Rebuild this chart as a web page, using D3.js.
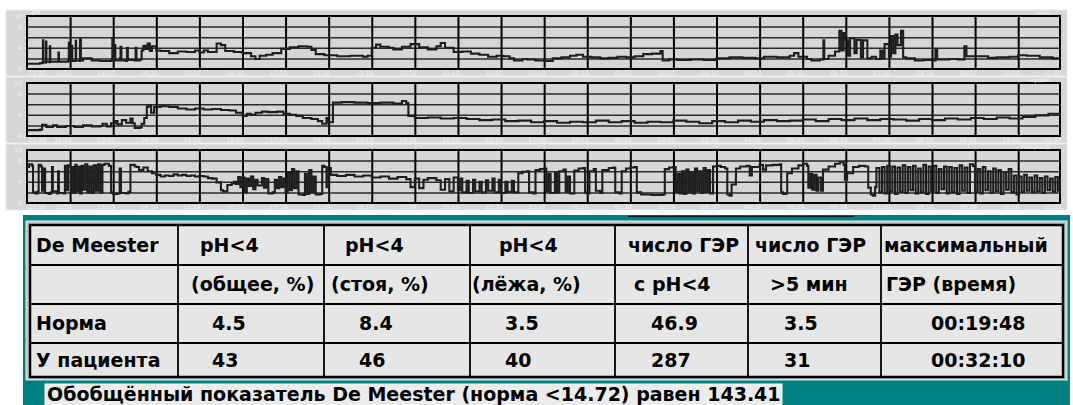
<!DOCTYPE html>
<html lang="ru">
<head>
<meta charset="UTF-8">
<script src="https://cdnjs.cloudflare.com/ajax/libs/d3/7.8.5/d3.min.js"></script>
<title>pH-метрия</title>
<style>
  body { margin: 0; background: #fff; }
  svg { display: block; }
  .tbl text { font-family: "DejaVu Sans", sans-serif; font-weight: bold; font-size: 19px; fill: #000; }
  .small text, text.small { font-family: "DejaVu Sans", sans-serif; font-size: 6px; fill: #f4f4f4; }
</style>
</head>
<body>
<svg width="1073" height="405"></svg>
<script>
// ---- data ----
var hourLabels = ["11:10", "12:10", "13:10", "14:10", "15:10", "16:10", "17:10", "18:10",
                  "19:10", "20:10", "21:10", "22:10", "23:10", "00:10", "01:10", "02:10",
                  "03:10", "04:10", "05:10", "06:10", "07:10", "08:10", "09:10", "10:10", "11:07"];
var hourTicks = [0, 1, 2, 3, 4, 5, 6, 7, 8, 9, 10, 11, 12, 13, 14, 15, 16, 17, 18, 19, 20, 21, 22, 23, 23.97];
var phLabels = [0, 4, 8, 10];
var phGrid = [2, 4, 6, 8];
var channelNames = ["тело", "кардия", "пищевод"];

// [hours since 11:10, pH]
var ph1 = [[0,1.0],[0.3,1.1],[0.36,1.2],[0.37,5.4],[0.38,1.3],[0.43,1.2],[0.44,5.2],[0.45,1.4],[0.52,1.3],[0.53,4.3],[0.54,1.4],
  [0.72,1.4],[0.73,3.1],[0.74,1.4],[0.95,1.5],[0.97,5.0],[0.98,1.6],[1.02,2.0],[1.03,4.4],[1.05,1.5],[1.12,1.6],[1.13,5.3],
  [1.14,1.6],[1.22,1.5],[1.23,5.6],[1.25,1.6],[1.3,2.0],[1.5,1.6],[1.7,1.5],[1.95,1.6],[1.98,5.8],[2.0,1.7],[2.03,4.5],
  [2.05,1.6],[2.15,2.0],[2.17,4.2],[2.19,1.6],[2.3,1.5],[2.32,4.0],[2.34,1.7],[2.5,1.6],[2.52,4.0],[2.54,1.6],[2.62,1.8],
  [2.66,3.5],[2.7,4.4],[2.75,3.8],[2.8,4.8],[2.85,3.4],[2.9,4.3],[3.0,3.5],[3.1,3.4],[3.3,3.0],[3.5,3.3],[3.7,3.2],[3.9,3.5],
  [4.0,3.1],[4.1,3.5],[4.2,3.2],[4.4,4.8],[4.5,4.5],[4.6,3.4],[4.8,3.2],[5.0,3.0],[5.2,2.4],[5.3,1.9],[5.4,2.5],[5.55,2.7],
  [5.7,3.0],[5.9,3.8],[6.1,4.1],[6.3,4.3],[6.5,4.2],[6.6,3.6],[6.7,2.8],[6.9,2.6],[7.2,2.4],[7.5,2.5],[7.8,2.3],[7.9,2.5],
  [8.0,4.0],[8.1,4.6],[8.2,4.2],[8.4,4.0],[8.5,3.7],[8.7,4.2],[8.9,4.7],[9.1,4.1],[9.3,3.7],[9.5,4.3],[9.6,4.9],[9.7,4.0],
  [9.9,3.2],[10.1,3.3],[10.3,2.9],[10.5,2.7],[10.7,2.3],[10.9,2.5],[11.05,2.4],[11.2,2.0],[11.3,1.6],[11.5,1.9],[11.6,1.8],
  [11.8,1.6],[12.0,1.5],[12.2,2.0],[12.4,2.2],[12.6,2.5],[12.75,2.7],[12.9,2.3],[13.1,2.2],[13.3,2.0],[13.5,2.1],[13.7,2.3],
  [13.9,2.2],[14.1,2.4],[14.3,2.8],[14.5,2.9],[14.7,3.4],[14.75,1.6],[14.9,1.8],[15.1,1.7],[15.4,1.8],[15.7,1.7],[16.0,2.0],
  [16.3,2.2],[16.6,2.1],[16.9,2.0],[17.1,2.3],[17.4,2.2],[17.7,2.5],[17.8,3.0],[17.9,2.3],[18.1,1.9],[18.2,1.6],[18.4,1.8],
  [18.48,5.4],[18.5,1.9],[18.6,2.5],[18.75,3.3],[18.85,7.2],[18.9,3.5],[18.95,6.8],[19.0,5.4],[19.05,2.5],[19.1,5.8],
  [19.2,3.0],[19.25,5.5],[19.35,2.2],[19.4,5.4],[19.5,2.0],[19.6,2.3],[19.7,1.9],[19.8,3.5],[19.85,2.0],[19.9,4.7],[20.0,2.3],
  [20.05,6.2],[20.1,3.0],[20.15,6.5],[20.2,4.5],[20.28,7.2],[20.33,2.2],[20.4,2.0],[20.6,1.6],[20.8,1.7],[21.0,1.6],
  [21.08,3.7],[21.12,1.8],[21.4,1.9],[21.6,1.8],[21.75,4.3],[21.8,2.4],[22.1,2.4],[22.3,2.1],[22.5,2.2],[22.8,2.3],
  [23.0,2.6],[23.2,2.5],[23.5,2.2],[23.8,2.0],[23.97,2.1]];

var ph2 = [[0,1.1],[0.3,1.2],[0.35,2.1],[0.45,1.7],[0.6,2.0],[0.7,1.7],[0.9,1.9],[1.1,1.7],[1.3,2.0],[1.5,1.8],[1.7,1.9],
  [1.75,2.3],[1.85,1.8],[1.95,2.4],[2.05,2.8],[2.1,2.2],[2.2,3.0],[2.3,2.5],[2.4,3.3],[2.45,2.4],[2.5,1.5],[2.62,1.6],
  [2.66,2.3],[2.72,3.4],[2.78,5.5],[2.82,5.7],[2.88,4.4],[2.95,5.5],[3.1,5.6],[3.3,5.5],[3.5,5.2],[3.7,5.0],[3.9,5.2],
  [4.1,5.0],[4.3,5.1],[4.5,4.9],[4.7,4.8],[4.85,4.4],[5.0,3.8],[5.1,4.2],[5.2,4.0],[5.3,4.4],[5.45,4.6],[5.6,4.5],[5.8,4.6],
  [5.95,4.2],[6.1,4.0],[6.25,3.8],[6.4,3.4],[6.6,3.2],[6.75,2.8],[6.85,2.3],[6.95,3.4],[7.0,2.6],[7.1,6.3],[7.3,6.4],
  [7.6,6.3],[7.9,6.2],[8.2,6.3],[8.5,6.1],[8.7,6.6],[8.8,6.2],[8.85,3.8],[9.0,3.4],[9.3,3.5],[9.6,3.3],[9.9,3.4],[10.2,3.2],
  [10.5,3.0],[10.8,3.1],[11.1,2.8],[11.4,2.9],[11.7,2.6],[12.0,2.8],[12.3,2.5],[12.6,2.7],[12.9,2.6],[13.2,2.9],[13.5,2.6],
  [13.8,2.8],[14.1,2.5],[14.4,2.7],[14.7,2.6],[15.0,2.9],[15.3,2.7],[15.6,2.4],[15.9,2.8],[16.2,2.6],[16.5,2.9],[16.8,2.7],
  [17.1,3.0],[17.4,2.8],[17.7,2.9],[18.0,3.1],[18.3,2.8],[18.6,3.2],[18.9,3.0],[19.2,3.3],[19.5,3.0],[19.8,3.2],[20.1,3.1],
  [20.4,2.9],[20.7,3.2],[21.0,3.0],[21.3,3.3],[21.6,3.1],[21.9,3.4],[22.2,3.2],[22.5,3.5],[22.8,3.3],[23.1,3.6],[23.4,3.9],
  [23.7,4.2],[23.97,4.0]];

var ph3 = [[0,6.8],[0.05,7.3],[0.12,7.0],[0.14,2.0],[0.2,1.8],[0.25,2.2],[0.27,7.2],[0.32,6.9],[0.35,2.3],[0.38,6.5],
  [0.42,1.9],[0.5,1.7],[0.55,2.0],[0.58,6.8],[0.6,2.2],[0.7,1.8],[0.72,6.0],[0.74,1.9],[0.85,1.8],[0.88,7.0],[0.9,2.4],
  [0.95,7.1],[1.0,6.9],[1.02,2.0],[1.06,6.8],[1.08,1.9],[1.12,7.2],[1.15,2.2],[1.2,6.9],[1.23,1.8],[1.27,7.0],[1.3,2.5],
  [1.35,7.3],[1.4,2.0],[1.45,6.9],[1.5,1.9],[1.55,7.1],[1.6,2.3],[1.65,7.3],[1.7,2.0],[1.75,7.2],[1.8,7.4],[1.9,7.0],
  [1.95,2.0],[2.0,1.7],[2.1,1.8],[2.15,6.5],[2.18,1.9],[2.3,1.8],[2.35,2.1],[2.4,7.2],[2.5,6.9],[2.55,6.8],[2.6,6.2],
  [2.7,6.7],[2.8,6.0],[2.9,5.6],[3.0,5.3],[3.1,5.0],[3.2,5.2],[3.3,5.1],[3.4,5.4],[3.5,5.2],[3.6,5.3],[3.7,5.1],[3.8,5.2],
  [3.9,5.0],[4.0,5.1],[4.1,5.0],[4.2,4.7],[4.3,4.6],[4.4,3.9],[4.5,2.4],[4.55,2.2],[4.65,3.4],[4.75,3.7],[4.8,4.0],
  [4.85,3.6],[4.9,4.9],[4.95,3.0],[5.0,4.8],[5.05,2.0],[5.1,4.6],[5.15,3.2],[5.2,5.0],[5.25,2.6],[5.3,4.4],[5.35,3.3],
  [5.45,4.7],[5.5,2.9],[5.55,4.5],[5.6,1.8],[5.7,2.0],[5.75,4.4],[5.8,2.8],[5.85,4.9],[5.9,3.0],[5.95,4.6],[6.0,1.9],
  [6.05,5.8],[6.1,2.4],[6.15,6.4],[6.2,2.8],[6.25,6.0],[6.3,1.6],[6.4,1.5],[6.45,5.5],[6.5,1.7],[6.55,6.2],[6.6,2.0],
  [6.65,5.0],[6.7,1.6],[6.8,1.7],[6.85,7.0],[6.9,6.8],[6.95,3.0],[7.0,6.6],[7.05,5.3],[7.2,5.1],[7.4,5.3],[7.6,5.0],
  [7.8,5.2],[8.0,4.8],[8.2,5.0],[8.4,4.6],[8.6,4.9],[8.8,4.5],[8.9,3.0],[9.0,4.6],[9.1,2.8],[9.2,4.4],[9.3,4.7],[9.5,4.3],
  [9.6,2.5],[9.7,4.5],[9.8,2.2],[9.9,4.8],[10.0,2.4],[10.05,4.6],[10.1,2.0],[10.2,4.2],[10.25,1.9],[10.35,4.4],[10.4,2.2],
  [10.5,4.0],[10.55,2.0],[10.65,4.3],[10.7,2.3],[10.8,4.6],[10.85,2.0],[10.95,4.4],[11.0,1.9],[11.1,4.0],[11.15,2.1],
  [11.25,4.2],[11.3,2.0],[11.4,5.6],[11.5,5.9],[11.6,6.0],[11.65,2.0],[11.75,1.8],[11.8,6.2],[11.9,6.4],[12.0,6.5],
  [12.05,2.2],[12.1,5.5],[12.15,1.9],[12.25,5.8],[12.3,2.0],[12.35,6.0],[12.45,6.3],[12.5,2.1],[12.55,5.0],[12.6,1.8],
  [12.7,6.1],[12.8,6.5],[12.9,6.6],[12.95,2.0],[13.0,1.8],[13.05,6.0],[13.15,6.4],[13.2,2.3],[13.3,1.9],[13.35,6.2],
  [13.5,6.6],[13.6,6.7],[13.65,2.0],[13.75,1.8],[13.8,6.0],[13.9,6.5],[14.0,6.7],[14.1,6.8],[14.15,2.0],[14.25,1.6],
  [14.5,1.5],[14.75,1.6],[14.8,6.4],[14.9,6.7],[15.0,6.8],[15.05,2.0],[15.1,5.5],[15.15,1.8],[15.2,6.0],[15.25,1.7],
  [15.3,6.3],[15.35,2.0],[15.4,5.8],[15.45,1.8],[15.5,6.5],[15.55,2.2],[15.6,6.0],[15.65,1.9],[15.7,6.6],[15.75,2.1],
  [15.8,6.2],[15.85,1.8],[15.92,6.9],[16.0,7.0],[16.1,6.8],[16.2,6.5],[16.25,1.6],[16.3,1.4],[16.35,3.5],[16.45,6.5],
  [16.55,6.9],[16.7,7.0],[16.77,5.2],[16.82,6.8],[17.0,7.2],[17.08,6.3],[17.15,7.1],[17.3,7.2],[17.47,7.3],[17.5,2.0],
  [17.54,1.7],[17.6,1.8],[17.64,5.6],[17.75,6.5],[17.9,7.1],[18.01,7.4],[18.1,7.0],[18.13,2.9],[18.18,5.5],[18.22,2.5],
  [18.27,5.3],[18.32,2.3],[18.36,4.8],[18.42,2.3],[18.47,6.3],[18.6,6.9],[18.75,7.4],[18.86,7.7],[18.95,7.2],[18.98,4.4],
  [19.03,5.6],[19.17,6.8],[19.3,7.0],[19.45,6.9],[19.52,2.9],[19.58,1.6],[19.63,1.4],[19.68,3.0],[19.71,6.6],[19.78,2.0],
  [19.84,6.8],[19.9,1.8],[19.96,7.0],[20.02,2.2],[20.08,6.9],[20.14,1.7],[20.2,6.7],[20.26,2.1],[20.32,7.1],[20.38,1.9],
  [20.44,6.8],[20.5,2.4],[20.56,7.0],[20.62,1.8],[20.68,6.5],[20.74,2.0],[20.8,7.2],[20.86,1.7],[20.92,6.9],[20.98,2.2],
  [21.04,7.0],[21.1,1.9],[21.16,6.4],[21.22,2.6],[21.28,6.9],[21.34,1.8],[21.4,6.8],[21.46,2.0],[21.52,6.6],[21.58,1.7],
  [21.64,7.1],[21.7,2.3],[21.76,6.7],[21.82,1.9],[21.88,7.3],[21.95,7.0],[22.0,2.1],[22.06,6.4],[22.12,1.8],[22.18,6.8],
  [22.24,2.4],[22.3,6.0],[22.36,1.9],[22.42,6.5],[22.48,2.2],[22.54,6.2],[22.6,1.7],[22.66,5.8],[22.72,2.5],[22.78,6.4],
  [22.84,2.0],[22.9,5.2],[22.96,1.6],[23.02,5.0],[23.08,2.1],[23.14,5.3],[23.2,2.3],[23.26,4.8],[23.32,2.0],[23.38,5.2],
  [23.44,2.2],[23.5,4.7],[23.56,1.9],[23.62,5.0],[23.68,2.4],[23.74,4.6],[23.8,2.1],[23.86,4.9],[23.92,2.3],[23.97,4.5]];

var headRow1 = ["De Meester", "pH<4", "pH<4", "pH<4", "число ГЭР", "число ГЭР", "максимальный"];
var headRow2 = ["", "(общее, %)", "(стоя, %)", "(лёжа, %)", "с pH<4", ">5 мин", "ГЭР (время)"];
var rowNames = ["Норма", "У пациента"];
var normValues = ["4.5", "8.4", "3.5", "46.9", "3.5", "00:19:48"];
var patientValues = ["43", "46", "40", "287", "31", "00:32:10"];
var deMeesterNorm = "14.72";
var deMeesterScore = "143.41";

// ---- layout ----
var svg = d3.select("svg");
var panelTops = [10, 77, 144];
var plotH = 53;

var x = d3.scaleLinear().domain([0, 23.97]).range([27, 1060]);

var line = d3.line().curve(d3.curveStepAfter);

[ph1, ph2, ph3].forEach(function(data, i) {
    var top = panelTops[i] + 6;
    var y = d3.scaleLinear().domain([0, 10]).range([top + plotH, top]);
    var g = svg.append("g");

    g.append("rect")
        .attr("x", 6).attr("y", panelTops[i])
        .attr("width", 1061).attr("height", 66)
        .attr("fill", "#d6d6d6")
        .attr("stroke", "#ececec");

    // horizontal grid
    g.append("g")
        .attr("transform", "translate(27,0)")
        .call(d3.axisLeft(y).tickValues(phGrid).tickSize(-1033).tickFormat(""))
        .call(function(a) {
            a.select(".domain").remove();
            a.selectAll("line").attr("stroke", "#2a2a2a").attr("stroke-width", 1.5);
        });

    // vertical hour lines
    g.append("g")
        .attr("transform", "translate(0," + (top + plotH) + ")")
        .call(d3.axisBottom(x).tickValues(d3.range(1, 24)).tickSize(-plotH).tickFormat(""))
        .call(function(a) {
            a.select(".domain").remove();
            a.selectAll("line").attr("stroke", "#000").attr("stroke-width", 2);
        });

    g.append("rect")
        .attr("x", 27).attr("y", top)
        .attr("width", 1033).attr("height", plotH)
        .attr("fill", "none")
        .attr("stroke", "#000")
        .attr("stroke-width", 2);

    line.x(function(d) { return x(d[0]); })
        .y(function(d) { return y(d[1]); });

    g.append("path")
        .datum(data)
        .attr("d", line)
        .attr("fill", "none")
        .attr("stroke", "#1e1e1e")
        .attr("stroke-width", 2.1)
        .attr("stroke-linejoin", "miter");

    // tick labels
    g.append("g")
        .attr("class", "small")
        .attr("transform", "translate(0," + (top + plotH) + ")")
        .call(d3.axisBottom(x).tickValues(hourTicks).tickSize(0).tickPadding(2)
            .tickFormat(function(d, k) { return hourLabels[k]; }))
        .call(function(a) {
            a.select(".domain").remove();
            a.selectAll("text")
                .attr("text-anchor", function(d, k) { return k === 0 ? "start" : "end"; })
                .attr("dx", 1);
        });

    g.append("g")
        .attr("class", "small")
        .attr("transform", "translate(27,0)")
        .call(d3.axisLeft(y).tickValues(phLabels).tickSize(0).tickPadding(5))
        .call(function(a) { a.select(".domain").remove(); });

    if (i === 0) {
        g.append("text").attr("class", "small")
            .attr("x", 32).attr("y", 14).text("pH");
    }
    g.append("text").attr("class", "small")
        .attr("x", 1050).attr("y", panelTops[i] + 5)
        .attr("text-anchor", "end")
        .text(channelNames[i]);
});

// ---- results table ----
svg.append("rect")
    .attr("x", 23).attr("y", 215)
    .attr("width", 1047).attr("height", 190)
    .attr("fill", "#008080");

svg.append("rect")
    .attr("x", 628).attr("y", 210)
    .attr("width", 226).attr("height", 6)
    .attr("fill", "#fff");
svg.append("line")
    .attr("x1", 628).attr("x2", 854)
    .attr("y1", 216).attr("y2", 216)
    .attr("stroke", "#000").attr("stroke-width", 1.5);

var colEdges = [30, 178, 324, 470, 615, 748, 881, 1063];
var rowEdges = [225, 265, 304, 343, 377];
var offHead1 = [6, 22, 21, 29, 13, 7, 3];
var offHead2 = [0, 13, 7, 2, 19, 22, 5];
var offValue = [6, 34, 35, 35, 36, 36, 50];

svg.append("rect")
    .attr("x", 26).attr("y", 221)
    .attr("width", 1041).attr("height", 159)
    .attr("fill", "#c4c4c4")
    .attr("stroke", "#e8e8e8");

var tbl = svg.append("g").attr("class", "tbl");

tbl.append("rect")
    .attr("x", colEdges[0]).attr("y", rowEdges[0])
    .attr("width", colEdges[7] - colEdges[0])
    .attr("height", rowEdges[4] - rowEdges[0])
    .attr("fill", "#e6e6e6");

tbl.selectAll(".vl").data(colEdges.slice(1, 7)).enter().append("line")
    .attr("x1", function(d) { return d; }).attr("x2", function(d) { return d; })
    .attr("y1", rowEdges[0]).attr("y2", rowEdges[4])
    .attr("stroke", "#000").attr("stroke-width", 1.8);

tbl.selectAll(".hl").data(rowEdges.slice(1, 4)).enter().append("line")
    .attr("x1", colEdges[0]).attr("x2", colEdges[7])
    .attr("y1", function(d) { return d; }).attr("y2", function(d) { return d; })
    .attr("stroke", "#000").attr("stroke-width", 1.8);

tbl.append("rect")
    .attr("x", colEdges[0]).attr("y", rowEdges[0])
    .attr("width", colEdges[7] - colEdges[0])
    .attr("height", rowEdges[4] - rowEdges[0])
    .attr("fill", "none")
    .attr("stroke", "#000").attr("stroke-width", 2.5);

var rows = [
    { cells: headRow1, off: offHead1 },
    { cells: headRow2, off: offHead2 },
    { cells: [rowNames[0]].concat(normValues), off: offValue },
    { cells: [rowNames[1]].concat(patientValues), off: offValue }
];

rows.forEach(function(r, ri) {
    var base = (rowEdges[ri] + rowEdges[ri + 1]) / 2 + 6.5;
    tbl.selectAll(null).data(r.cells).enter().append("text")
        .attr("x", function(d, ci) { return colEdges[ci] + r.off[ci]; })
        .attr("y", base)
        .text(function(d) { return d; });
});

// summary line
svg.append("rect")
    .attr("x", 45).attr("y", 384)
    .attr("width", 737).attr("height", 25)
    .attr("fill", "#ececec")
    .attr("stroke", "#fafafa");

svg.append("g").attr("class", "tbl").append("text")
    .attr("x", 47).attr("y", 401)
    .text("Обобщённый показатель De Meester (норма <" + deMeesterNorm + ") равен " + deMeesterScore);
</script>
</body>
</html>
